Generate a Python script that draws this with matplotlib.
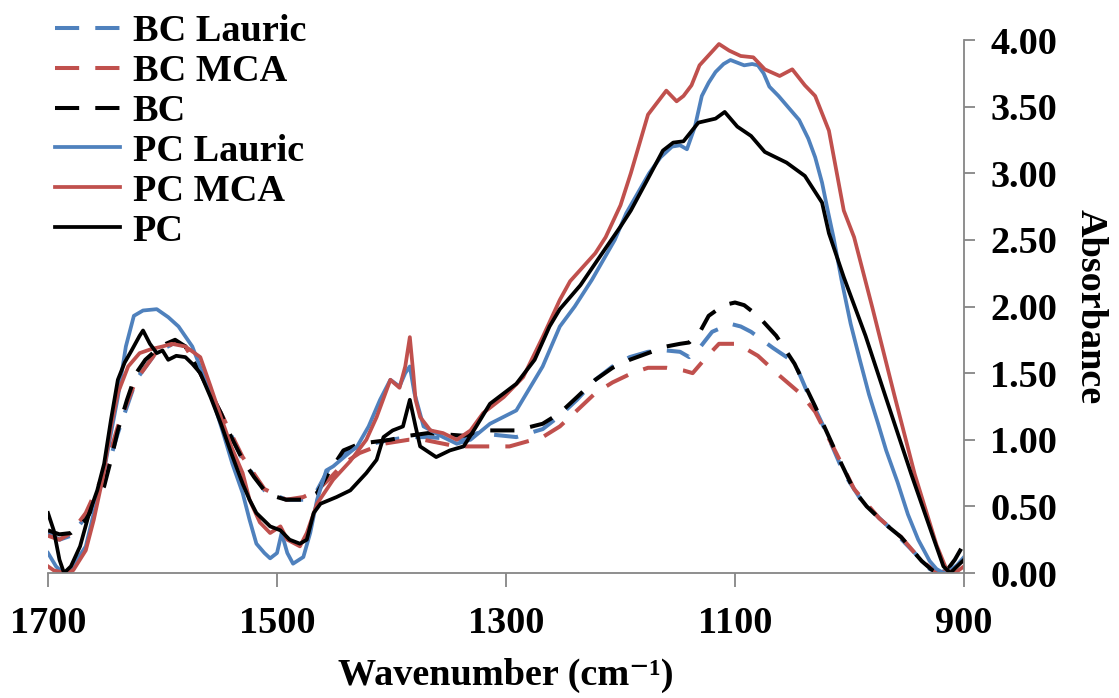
import matplotlib
matplotlib.use("Agg")
import matplotlib.pyplot as plt

plt.rcParams['font.family'] = ['Liberation Serif', 'DejaVu Serif']
plt.rcParams['font.weight'] = 'bold'

# ---------------- data ----------------
bc_lauric_wn = [1700, 1690, 1680, 1667, 1651, 1639, 1623, 1606, 1589, 1580, 1567, 1549, 1530,
                1511, 1492, 1477, 1465, 1455, 1442, 1428, 1401, 1385, 1368, 1337, 1325, 1291,
                1268, 1253, 1238, 1222, 1207, 1192, 1176, 1160, 1148, 1140, 1130, 1120, 1104,
                1095, 1086, 1067, 1048, 1036, 1020, 1005, 990, 975, 960, 943, 930, 922, 912, 900]
bc_lauric_abs = [0.30, 0.25, 0.28, 0.42, 0.70, 1.05, 1.45, 1.65, 1.73, 1.70, 1.50, 1.20, 0.85,
                 0.62, 0.55, 0.55, 0.62, 0.78, 0.90, 0.95, 1.00, 1.02, 1.02, 1.00, 1.05, 1.02,
                 1.08, 1.18, 1.30, 1.45, 1.55, 1.62, 1.66, 1.67, 1.66, 1.62, 1.70, 1.81, 1.87,
                 1.85, 1.81, 1.69, 1.58, 1.34, 1.05, 0.75, 0.55, 0.42, 0.30, 0.15, 0.03, 0.00, 0.03, 0.10]

bc_mca_wn = [1700, 1690, 1680, 1667, 1651, 1639, 1623, 1606, 1589, 1580, 1567, 1549, 1530,
             1511, 1492, 1477, 1465, 1455, 1442, 1428, 1407, 1385, 1372, 1343, 1320, 1297,
             1268, 1253, 1238, 1222, 1207, 1190, 1176, 1160, 1145, 1137, 1125, 1114, 1098,
             1080, 1061, 1042, 1030, 1011, 996, 974, 955, 937, 923, 912, 900]
bc_mca_abs = [0.28, 0.25, 0.30, 0.45, 0.75, 1.10, 1.45, 1.65, 1.73, 1.70, 1.50, 1.20, 0.87,
              0.63, 0.55, 0.57, 0.62, 0.70, 0.82, 0.90, 0.97, 1.00, 1.00, 0.95, 0.95, 0.95,
              1.02, 1.10, 1.22, 1.35, 1.43, 1.50, 1.54, 1.54, 1.52, 1.50, 1.62, 1.72, 1.72,
              1.63, 1.48, 1.34, 1.21, 0.89, 0.63, 0.41, 0.27, 0.09, 0.00, 0.02, 0.10]

bc_wn = [1700, 1690, 1680, 1667, 1660, 1651, 1645, 1639, 1631, 1623, 1615, 1606, 1597, 1589,
         1580, 1567, 1558, 1549, 1540, 1530, 1520, 1511, 1500, 1492, 1477, 1465, 1455, 1442,
         1428, 1401, 1385, 1368, 1337, 1314, 1291, 1268, 1253, 1238, 1222, 1207, 1192, 1176,
         1160, 1148, 1140, 1130, 1123, 1110, 1100, 1092, 1080, 1064, 1048, 1030, 1011, 996,
         985, 974, 965, 955, 946, 937, 929, 923, 915, 908, 900]
bc_abs = [0.32, 0.29, 0.30, 0.40, 0.50, 0.65, 0.85, 1.07, 1.30, 1.50, 1.60, 1.67, 1.72, 1.75,
          1.70, 1.50, 1.35, 1.20, 1.02, 0.85, 0.72, 0.62, 0.57, 0.55, 0.55, 0.60, 0.75, 0.92,
          0.97, 1.00, 1.03, 1.05, 1.03, 1.07, 1.07, 1.12, 1.20, 1.32, 1.45, 1.54, 1.60, 1.65,
          1.70, 1.72, 1.73, 1.82, 1.93, 2.01, 2.03, 2.01, 1.93, 1.78, 1.57, 1.25, 0.89, 0.62,
          0.50, 0.41, 0.34, 0.27, 0.18, 0.09, 0.03, 0.00, 0.02, 0.10, 0.22]

pc_lauric_wn = [1700, 1693, 1687, 1680, 1667, 1660, 1651, 1645, 1639, 1632, 1625, 1617, 1605,
                1595, 1586, 1574, 1565, 1555, 1547, 1539, 1530, 1524, 1518, 1511, 1506, 1500,
                1496, 1491, 1486, 1477, 1471, 1465, 1457, 1451, 1440, 1430, 1420, 1410, 1401,
                1393, 1388, 1384, 1380, 1372, 1355, 1343, 1331, 1314, 1291, 1268, 1262, 1253,
                1240, 1225, 1215, 1205, 1195, 1185, 1175, 1165, 1155, 1148, 1142, 1135, 1129,
                1123, 1117, 1110, 1104, 1098, 1092, 1085, 1080, 1075, 1070, 1062, 1052, 1044,
                1036, 1030, 1024, 1019, 1014, 1007, 999, 991, 983, 975, 968, 958, 949, 940,
                930, 924, 918, 912, 906, 900]
pc_lauric_abs = [0.15, 0.05, 0.00, 0.03, 0.20, 0.45, 0.77, 1.05, 1.32, 1.70, 1.93, 1.97, 1.98,
                 1.92, 1.85, 1.70, 1.50, 1.27, 1.05, 0.82, 0.60, 0.40, 0.22, 0.15, 0.11, 0.15,
                 0.30, 0.15, 0.07, 0.12, 0.30, 0.55, 0.77, 0.80, 0.88, 0.95, 1.10, 1.30, 1.45,
                 1.40, 1.50, 1.55, 1.35, 1.10, 1.02, 0.97, 1.00, 1.12, 1.22, 1.55, 1.67, 1.85,
                 2.00, 2.20, 2.35, 2.50, 2.70, 2.85, 3.00, 3.12, 3.20, 3.21, 3.18, 3.35, 3.58,
                 3.68, 3.76, 3.82, 3.85, 3.83, 3.81, 3.82, 3.81, 3.75, 3.65, 3.58, 3.48, 3.40,
                 3.26, 3.12, 2.93, 2.72, 2.52, 2.20, 1.87, 1.60, 1.34, 1.12, 0.92, 0.68, 0.44, 0.25,
                 0.09, 0.03, 0.00, 0.02, 0.06, 0.12]

pc_mca_wn = [1700, 1695, 1685, 1678, 1667, 1660, 1652, 1645, 1639, 1630, 1620, 1610, 1600,
             1592, 1580, 1567, 1558, 1549, 1540, 1530, 1524, 1515, 1506, 1497, 1491, 1480,
             1474, 1465, 1451, 1436, 1422, 1413, 1401, 1393, 1388, 1384, 1381, 1379, 1375,
             1366, 1355, 1343, 1331, 1320, 1302, 1285, 1268, 1253, 1244, 1222, 1213, 1200,
             1191, 1176, 1160, 1151, 1145, 1138, 1131, 1114, 1105, 1095, 1084, 1074, 1061,
             1050, 1039, 1030, 1018, 1005, 996, 980, 961, 943, 924, 915, 908, 900]
pc_mca_abs = [0.05, 0.02, 0.00, 0.02, 0.17, 0.40, 0.72, 1.10, 1.35, 1.55, 1.65, 1.68, 1.70,
              1.72, 1.70, 1.62, 1.40, 1.17, 0.95, 0.75, 0.55, 0.38, 0.30, 0.35, 0.25, 0.20,
              0.30, 0.52, 0.70, 0.84, 1.00, 1.17, 1.45, 1.39, 1.55, 1.77, 1.50, 1.30, 1.17,
              1.07, 1.05, 1.00, 1.07, 1.20, 1.32, 1.47, 1.77, 2.05, 2.19, 2.40, 2.52, 2.76,
              3.00, 3.44, 3.62, 3.54, 3.58, 3.66, 3.81, 3.97, 3.92, 3.88, 3.87, 3.78, 3.73,
              3.78, 3.66, 3.58, 3.32, 2.72, 2.52, 1.99, 1.34, 0.74, 0.21, 0.02, 0.00, 0.05]

pc_wn = [1700, 1695, 1690, 1686, 1680, 1672, 1664, 1657, 1651, 1645, 1639, 1633, 1627, 1620,
         1617, 1611, 1605, 1600, 1595, 1588, 1580, 1574, 1567, 1558, 1549, 1540, 1530, 1524,
         1518, 1506, 1497, 1489, 1480, 1474, 1468, 1462, 1448, 1436, 1422, 1413, 1407, 1399,
         1390, 1384, 1379, 1375, 1361, 1349, 1337, 1326, 1314, 1291, 1275, 1262, 1253, 1235,
         1216, 1200, 1191, 1176, 1163, 1154, 1145, 1132, 1117, 1109, 1098, 1086, 1074, 1055,
         1039, 1024, 1018, 1005, 986, 968, 946, 927, 918, 912, 906, 900]
pc_abs = [0.45, 0.32, 0.10, 0.00, 0.05, 0.20, 0.45, 0.62, 0.82, 1.15, 1.45, 1.58, 1.67, 1.78,
          1.82, 1.72, 1.65, 1.67, 1.60, 1.63, 1.62, 1.57, 1.50, 1.32, 1.12, 0.90, 0.67, 0.55,
          0.45, 0.35, 0.32, 0.25, 0.22, 0.25, 0.45, 0.52, 0.57, 0.62, 0.75, 0.85, 1.02, 1.07,
          1.10, 1.30, 1.10, 0.95, 0.87, 0.92, 0.95, 1.10, 1.27, 1.42, 1.60, 1.85, 1.98, 2.16,
          2.40, 2.60, 2.72, 2.96, 3.17, 3.23, 3.24, 3.38, 3.41, 3.46, 3.35, 3.28, 3.16, 3.08,
          2.98, 2.78, 2.55, 2.22, 1.78, 1.31, 0.74, 0.27, 0.05, 0.00, 0.05, 0.10]

series_labels = ["BC Lauric", "BC MCA", "BC", "PC Lauric", "PC MCA", "PC"]
series_wn = [bc_lauric_wn, bc_mca_wn, bc_wn, pc_lauric_wn, pc_mca_wn, pc_wn]
series_abs = [bc_lauric_abs, bc_mca_abs, bc_abs, pc_lauric_abs, pc_mca_abs, pc_abs]
series_colors = ["#4F81BD", "#C0504D", "#000000", "#4F81BD", "#C0504D", "#000000"]
series_dashed = [True, True, True, False, False, False]

x_ticks = [1700, 1500, 1300, 1100, 900]
x_tick_labels = ["1700", "1500", "1300", "1100", "900"]
y_ticks = [0.0, 0.5, 1.0, 1.5, 2.0, 2.5, 3.0, 3.5, 4.0]
y_tick_labels = ["0.00", "0.50", "1.00", "1.50", "2.00", "2.50", "3.00", "3.50", "4.00"]

FS = 27.5

# ---------------- figure ----------------
fig = plt.figure(figsize=(11.19, 6.98), dpi=100)
ax = fig.add_axes([0.0429, 0.17908, 0.8186, 0.76361])

for wn, ab, lab, col, dsh in zip(series_wn, series_abs, series_labels, series_colors, series_dashed):
    if dsh:
        ax.plot(wn, ab, color=col, lw=2.9, linestyle=(0, (6, 4)), label=lab,
                dash_capstyle='butt')
    else:
        ax.plot(wn, ab, color=col, lw=2.7, linestyle='-', label=lab)

ax.set_xlim(1700, 900)
ax.set_ylim(0, 4)
ax.set_xticks(x_ticks)
ax.set_xticklabels(x_tick_labels)
ax.set_yticks(y_ticks)
ax.set_yticklabels(y_tick_labels)

spine_col = '#868686'
for s in ['left', 'top']:
    ax.spines[s].set_visible(False)
for s in ['bottom', 'right']:
    ax.spines[s].set_color(spine_col)
    ax.spines[s].set_linewidth(1.3)

ax.yaxis.tick_right()
ax.yaxis.set_label_position('right')
ax.tick_params(axis='y', left=False, right=True, direction='out', length=8, width=1.3,
               color=spine_col, labelcolor='black', labelsize=FS, pad=11)
ax.tick_params(axis='x', direction='out', length=10, width=1.3,
               color=spine_col, labelcolor='black', labelsize=FS, pad=14)

ax.set_xlabel("Wavenumber (cm\u207b\u00b9)", fontsize=FS, fontweight='bold', labelpad=12)
ax.set_ylabel("Absorbance", fontsize=FS, fontweight='bold', rotation=270, labelpad=36)

leg = ax.legend(loc='upper left', bbox_to_anchor=(0.049, 0.980),
                bbox_transform=fig.transFigure, frameon=False, fontsize=FS,
                handlelength=1.7, handletextpad=0.34, labelspacing=0.13,
                borderpad=0, borderaxespad=0)

fig.savefig("out.png", dpi=100)
